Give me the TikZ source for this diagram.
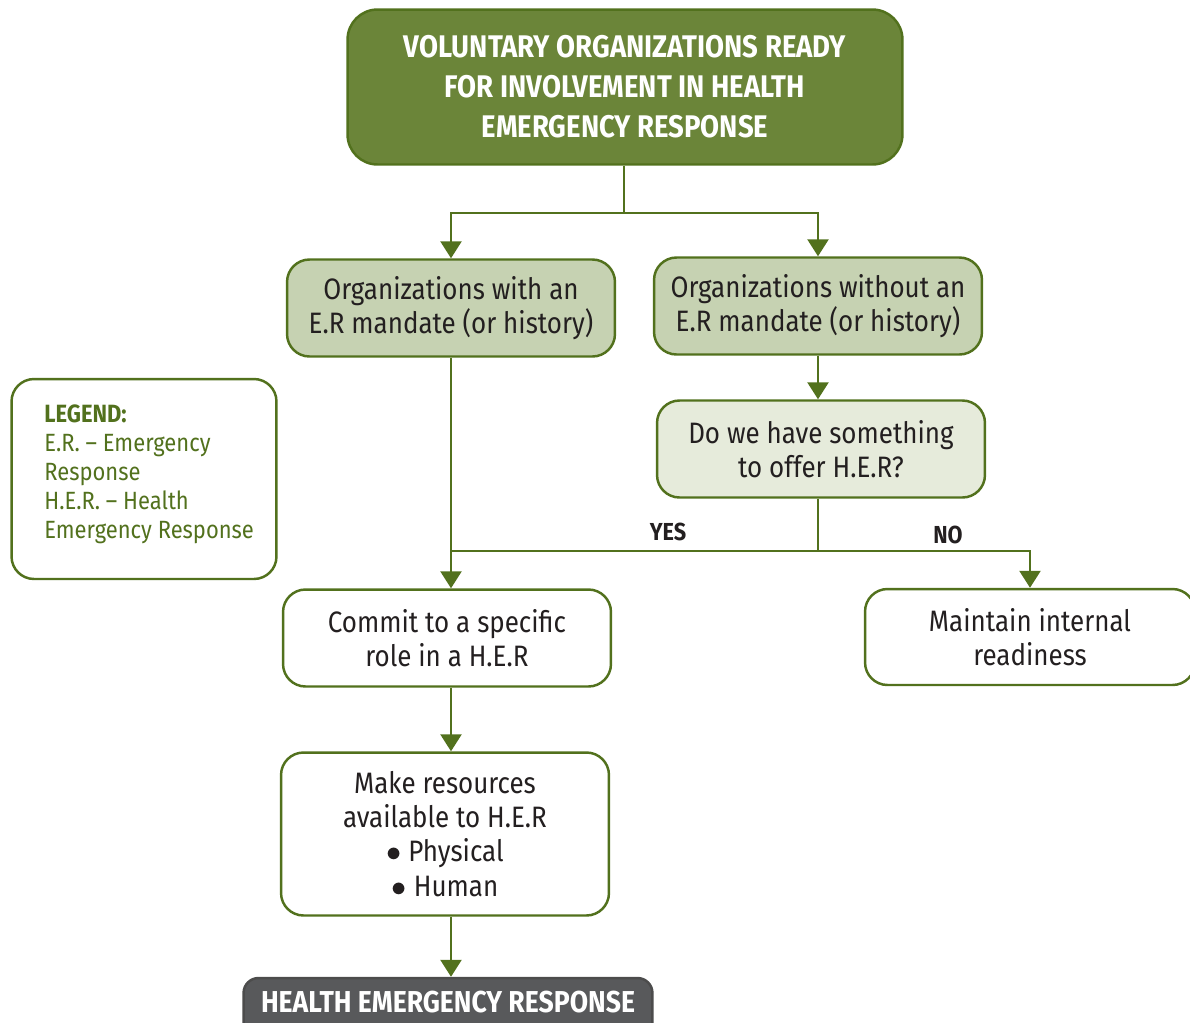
\documentclass[tikz,border=0pt]{standalone}
\usepackage{fontspec}
\setmainfont[FakeStretch=0.88]{Fira Sans}
\usetikzlibrary{arrows.meta}

\definecolor{headgreen}{HTML}{6B8539}
\definecolor{linegreen}{HTML}{52711D}
\definecolor{sagefill}{HTML}{C6D2B2}
\definecolor{palefill}{HTML}{E6EBDB}
\definecolor{darkgrey}{HTML}{58595B}
\definecolor{inktext}{HTML}{231F20}

\tikzset{
  link/.style={draw=linegreen, line width=1.4pt},
  arr/.style={link, -{Triangle[width=0.42cm,length=0.34cm]}},
  box/.style={draw=linegreen, line width=1.4pt, rounded corners=0.45cm,
    align=center, text=inktext, inner sep=0pt,
    font=\fontsize{16.8}{19.4}\selectfont,
    minimum width=6.56cm, minimum height=1.94cm},
  headbox/.style={box, fill=headgreen, text=white, rounded corners=0.6cm,
    font=\bfseries\fontsize{17.8}{22.8}\selectfont},
  endbox/.style={box, draw=black!70, fill=darkgrey, text=white,
    rounded corners=0.3cm, font=\bfseries\fontsize{17.2}{18}\selectfont},
  answer/.style={text=inktext, inner sep=0pt, font=\bfseries\fontsize{14}{15}\selectfont}
}

\begin{document}
\begin{tikzpicture}[x=0.02cm, y=-0.02cm]
    \useasboundingbox (0,0) rectangle (1190,1022);
    \clip (0,0) rectangle (1190,1022);

    % boxes
    \node[headbox, minimum width=11.1cm, minimum height=3.1cm] (top) at (625,87)
      {VOLUNTARY ORGANIZATIONS READY\\ FOR INVOLVEMENT IN HEALTH\\ EMERGENCY RESPONSE};
    \node[box, fill=sagefill] (withER) at (451,308) {Organizations with an\\ E.R mandate (or history)};
    \node[box, fill=sagefill] (withoutER) at (818,306) {Organizations without an\\ E.R mandate (or history)};
    \node[box, fill=palefill] (offer) at (821,449) {Do we have something\\ to offer H.E.R?};
    \node[box, fill=white] (commit) at (447,638) {Commit to a specific\\ role in a H.E.R};
    \node[box, fill=white, minimum height=3.26cm] (resources) at (445,834)
      {Make resources\\ available to H.E.R\\ $\bullet$ Physical\\ $\bullet$ Human};
    \node[endbox, minimum width=8.18cm, minimum height=1.2cm, text depth=0pt] (her) at (448,1008)
      {\raisebox{0.8ex}{HEALTH EMERGENCY RESPONSE}};
    \node[box, fill=white, minimum width=6.6cm, minimum height=1.92cm] (maintain) at (1030,637)
      {Maintain internal\\ readiness};

    % legend
    \node[box, fill=white, minimum width=5.3cm, minimum height=4cm] (legend) at (144,479) {};
    \node[anchor=north west, align=left, inner sep=0pt, text=linegreen,
      font=\fontsize{14.2}{16.5}\selectfont] (legtext) at (44,404)
      {\textbf{LEGEND:}\\ E.R. -- Emergency\\ Response\\ H.E.R. -- Health\\ Emergency Response};

    % connectors
    \coordinate (split) at (624,213);
    \coordinate (fork) at (818,551);
    \draw[link] (top.south -| split) -- (split);
    \draw[arr] (split) -| (withER.north);
    \draw[arr] (split) -| (withoutER.north);
    \draw[arr] (withoutER.south) -- (offer.north -| withoutER.south);
    \draw[link] (offer.south -| fork) -- (fork);
    \draw[arr] (fork) -| (maintain.north);
    \draw[link] (fork) -- (fork -| withER.south);
    \draw[arr] (withER.south) -- (commit.north -| withER.south);
    \draw[arr] (commit.south -| withER.south) -- (resources.north -| withER.south);
    \draw[arr] (resources.south -| withER.south) -- (her.north -| withER.south);

    % answers
    \node[answer] (yes) at (668,532) {YES};
    \node[answer] (no) at (948,535) {NO};
\end{tikzpicture}
\end{document}
